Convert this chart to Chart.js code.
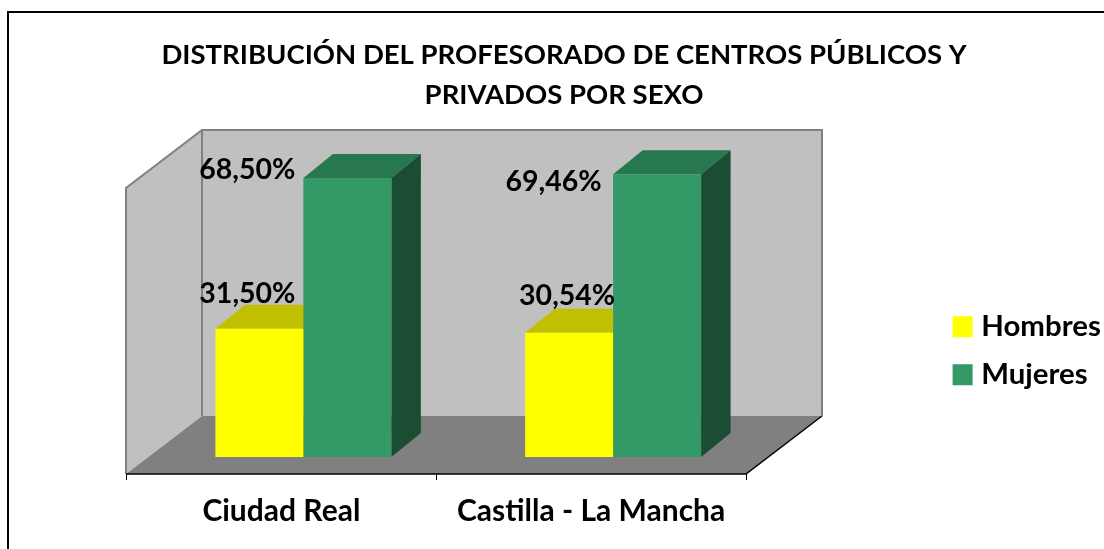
<!DOCTYPE html>
<html lang="es">
<head>
  <meta charset="UTF-8" />
  <title>Distribución del profesorado por sexo</title>
  <script src="https://cdn.jsdelivr.net/npm/chart.js"></script>
  <style>
    html, body { margin: 0; padding: 0; background: #ffffff; overflow: hidden; }
    canvas { display: block; }
  </style>
</head>
<body>
  <canvas id="grafico" width="1104" height="549"></canvas>

  <script>
    const categorias = ['Ciudad Real', 'Castilla - La Mancha'];
    const hombres = [31.50, 30.54];
    const mujeres = [68.50, 69.46];
    const titulo = ['DISTRIBUCIÓN DEL PROFESORADO DE CENTROS PÚBLICOS Y', 'PRIVADOS POR SEXO'];

    const FUENTE = 'Lato, Carlito, sans-serif';
    const AMARILLO = ['#ffff00', '#c0c000', '#808000'];
    const VERDE = ['#339966', '#28784f', '#1b4d33'];

    // desplazamiento de las etiquetas respecto a cada barra, colocadas a mano como en el original
    const ajusteEtiquetas = [
      [[-12, -35], [-2, -37]],
      [[-100, -8], [-103.5, 8]]
    ];

    function fmt(v) {
      return v.toFixed(2).replace('.', ',') + '%';
    }

    function poly(ctx, pts, fill) {
      ctx.beginPath();
      pts.forEach((p, i) => i ? ctx.lineTo(p[0], p[1]) : ctx.moveTo(p[0], p[1]));
      ctx.closePath();
      ctx.fillStyle = fill;
      ctx.fill();
    }

    const caja3d = {
      id: 'caja3d',
      beforeDraw(chart) {
        const ctx = chart.ctx;
        ctx.save();
        ctx.strokeStyle = '#000000';
        ctx.lineWidth = 2;
        ctx.strokeRect(8, 12, 1300, 800);
        ctx.restore();
      },
      beforeDatasetsDraw(chart) {
        const ctx = chart.ctx;
        const a = chart.chartArea;
        // esquina frontal de la caja
        const l = a.left - 22.5, r = a.right - 22, b = a.bottom + 17, t = a.top + 16;
        const dx = 76, dy = -58;

        ctx.save();
        poly(ctx, [[l, t], [l + dx, t + dy], [l + dx, b + dy], [l, b]], '#c0c0c0');
        poly(ctx, [[l + dx, t + dy], [r + dx, t + dy], [r + dx, b + dy], [l + dx, b + dy]], '#c0c0c0');
        poly(ctx, [[l, b], [l + dx, b + dy], [r + dx, b + dy], [r, b]], '#808080');

        ctx.strokeStyle = '#808080';
        ctx.lineWidth = 2;
        ctx.beginPath();
        ctx.moveTo(l, b); ctx.lineTo(l, t); ctx.lineTo(l + dx, t + dy);
        ctx.lineTo(r + dx, t + dy); ctx.lineTo(r + dx, b + dy);
        ctx.moveTo(l + dx, t + dy); ctx.lineTo(l + dx, b + dy);
        ctx.stroke();

        ctx.strokeStyle = '#000000';
        ctx.lineWidth = 1.5;
        ctx.beginPath();
        ctx.moveTo(l, b); ctx.lineTo(r, b); ctx.lineTo(r + dx, b + dy);
        ctx.stroke();
        ctx.lineWidth = 1;
        ctx.beginPath();
        [l, (l + r) / 2, r].forEach(x => {
          ctx.moveTo(Math.round(x) + 0.5, b);
          ctx.lineTo(Math.round(x) + 0.5, b + 6);
        });
        ctx.stroke();

        // caras superior y lateral de las barras
        const pdx = 29.5, pdy = -24;
        [AMARILLO, VERDE].forEach((tonos, i) => {
          chart.getDatasetMeta(i).data.forEach(el => {
            const x0 = el.x - el.width / 2, x1 = el.x + el.width / 2;
            poly(ctx, [[x0, el.y], [x0 + pdx, el.y + pdy], [x1 + pdx, el.y + pdy], [x1, el.y]], tonos[1]);
            poly(ctx, [[x1, el.y], [x1 + pdx, el.y + pdy], [x1 + pdx, el.base + pdy], [x1, el.base]], tonos[2]);
          });
        });
        ctx.restore();
      },
      afterDatasetsDraw(chart) {
        const ctx = chart.ctx;
        ctx.save();
        ctx.font = 'bold 28.5px ' + FUENTE;
        ctx.fillStyle = '#000000';
        ctx.textAlign = 'center';
        ctx.textBaseline = 'middle';
        chart.data.datasets.forEach((ds, i) => {
          chart.getDatasetMeta(i).data.forEach((el, j) => {
            const aj = ajusteEtiquetas[i][j];
            ctx.fillText(fmt(ds.data[j]), el.x + aj[0], el.y + aj[1]);
          });
        });
        ctx.restore();
      },
      afterLayout(chart) {
        // la leyenda queda fuera de la caja, a la derecha
        const lg = chart.legend;
        const w = lg.width, h = lg.height;
        lg.left = 940;
        lg.right = lg.left + w;
        lg.top = 293.4;
        lg.bottom = lg.top + h;
      }
    };

    new Chart(document.getElementById('grafico'), {
      type: 'bar',
      data: {
        labels: categorias,
        datasets: [
          { label: 'Hombres', data: hombres, backgroundColor: AMARILLO[0], borderWidth: 0 },
          { label: 'Mujeres', data: mujeres, backgroundColor: VERDE[0], borderWidth: 0 }
        ]
      },
      options: {
        responsive: false,
        animation: false,
        layout: { padding: { left: 24, right: 0, top: 0, bottom: 0 } },
        datasets: { bar: { barPercentage: 1, categoryPercentage: 0.568 } },
        plugins: {
          tooltip: { enabled: false },
          title: {
            display: true,
            text: titulo,
            color: '#000000',
            font: { family: FUENTE, size: 27.5, weight: 'bold', lineHeight: 40 / 27.5 },
            padding: { top: 35, bottom: 57 }
          },
          legend: {
            position: 'chartArea',
            align: 'start',
            labels: {
              boxWidth: 8,
              boxHeight: 9,
              padding: 18.6,
              color: '#000000',
              font: { family: FUENTE, size: 29.4, weight: 'bold', lineHeight: 1.2 },
              generateLabels(chart) {
                return Chart.defaults.plugins.legend.labels.generateLabels(chart).map(it => ({
                  ...it, lineWidth: 12, strokeStyle: it.fillStyle
                }));
              }
            }
          }
        },
        scales: {
          x: {
            grid: { display: false, drawTicks: false },
            border: { display: false },
            ticks: {
              color: '#000000',
              padding: 36,
              labelOffset: -22,
              maxRotation: 0,
              autoSkip: false,
              font: { family: FUENTE, size: 30, weight: 'bold' }
            },
            afterFit(s) { s.height = 92; }
          },
          y: {
            display: false,
            min: 0,
            max: 70,
            afterFit(s) { s.width = 124.5; }
          },
          yDerecha: {
            display: false,
            position: 'right',
            afterFit(s) { s.width = 336; }
          }
        }
      },
      plugins: [caja3d]
    });
  </script>
</body>
</html>
